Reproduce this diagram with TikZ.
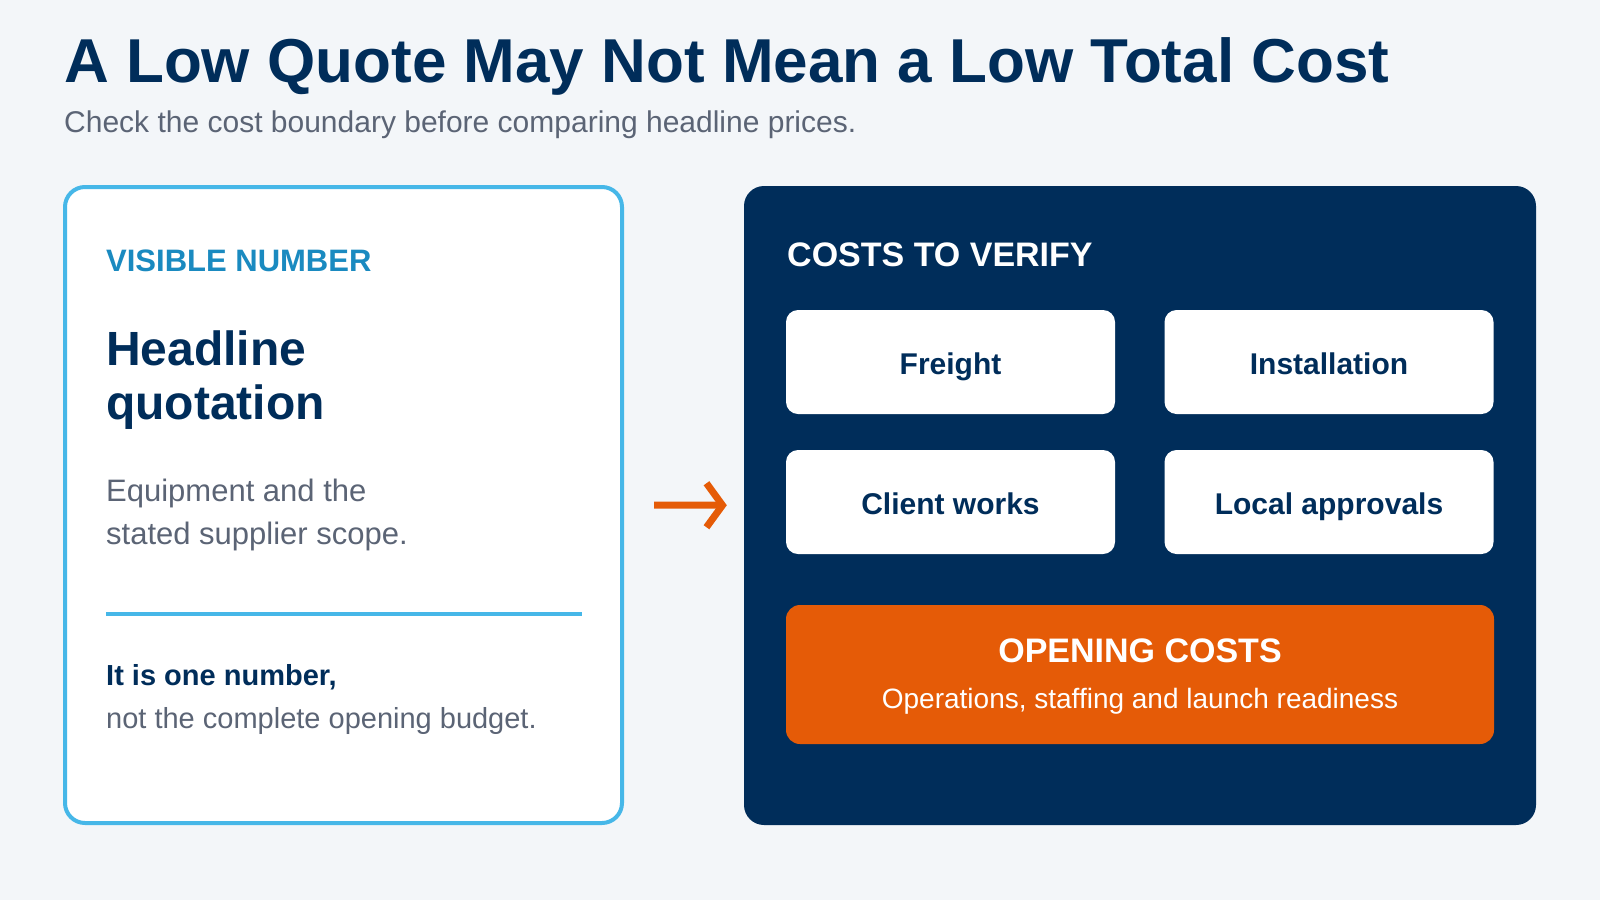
\documentclass[tikz,border=0pt]{standalone}
\usepackage{fontspec}
\setmainfont{Liberation Sans}
\usetikzlibrary{arrows.meta}
\definecolor{pagebg}{HTML}{F3F6F9}
\definecolor{navy}{HTML}{002D5A}
\definecolor{skyblue}{HTML}{46B7E8}
\definecolor{tagblue}{HTML}{1A8AC0}
\definecolor{greytext}{HTML}{5B6475}
\definecolor{hotorange}{HTML}{E55B07}
\newcommand{\fs}[1]{\fontsize{#1}{1.2\dimexpr#1pt\relax}\selectfont}

\tikzset{
  txt/.style={anchor=base west,inner sep=0pt},
  costbox/.style={fill=white,rounded corners=12pt,minimum width=329pt,minimum height=104pt,
    text=navy,font=\bfseries\fs{30},text height=25pt,text depth=0pt},
}

\begin{document}
\begin{tikzpicture}[x=1pt,y=-1pt]
    \fill[pagebg] (0,0) rectangle (1600,900);

    \node[txt,text=navy,font=\bfseries\fs{62}] (title) at (64,82) {A Low Quote May Not Mean a Low Total Cost};
    \node[txt,text=greytext,font=\fs{30}] (subtitle) at (64,132) {Check the cost boundary before comparing headline prices.};

    \node[draw=skyblue,line width=4pt,fill=white,rounded corners=20pt,minimum width=557pt,minimum height=636pt] (card) at (343.5,505) {};
    \node[fill=navy,rounded corners=20pt,minimum width=792pt,minimum height=639pt] (panel) at (1140,505.5) {};

    \node[txt,text=tagblue,font=\bfseries\fs{31}] (tag) at (106,271) {VISIBLE NUMBER};
    \node[txt,text=navy,font=\bfseries\fs{48}] (head1) at (106,365) {Headline};
    \node[txt,text=navy,font=\bfseries\fs{48}] (head2) at (106,419) {quotation};
    \node[txt,text=greytext,font=\fs{31}] (scope1) at (106,501) {Equipment and the};
    \node[txt,text=greytext,font=\fs{31}] (scope2) at (106,544) {stated supplier scope.};
    \draw[skyblue,line width=4pt] (106,614) -- (582,614);
    \node[txt,text=navy,font=\bfseries\fs{29}] (note1) at (106,685) {It is one number,};
    \node[txt,text=greytext,font=\fs{29}] (note2) at (106,728) {not the complete opening budget.};

    \node[txt,text=white,font=\bfseries\fs{34}] (verify) at (787,266) {COSTS TO VERIFY};
    \node[costbox] (freight) at (950.5,362) {Freight};
    \node[costbox] (install) at (1329,362) {Installation};
    \node[costbox] (client) at (950.5,502) {Client works};
    \node[costbox] (approvals) at (1329,502) {Local approvals};

    \node[fill=hotorange,rounded corners=14pt,minimum width=708pt,minimum height=139pt] (opening) at (1140,674.5) {};
    \node[anchor=base,inner sep=0pt,text=white,font=\bfseries\fs{34}] (opentitle) at (1140,662) {OPENING COSTS};
    \node[anchor=base,inner sep=0pt,text=white,font=\fs{28}] (opensub) at (1140,708) {Operations, staffing and launch readiness};

    \draw[hotorange,line width=7pt,-{Straight Barb[length=16pt,width=44pt]},shorten <=30pt,shorten >=17pt] (card) -- (panel);
\end{tikzpicture}
\end{document}
